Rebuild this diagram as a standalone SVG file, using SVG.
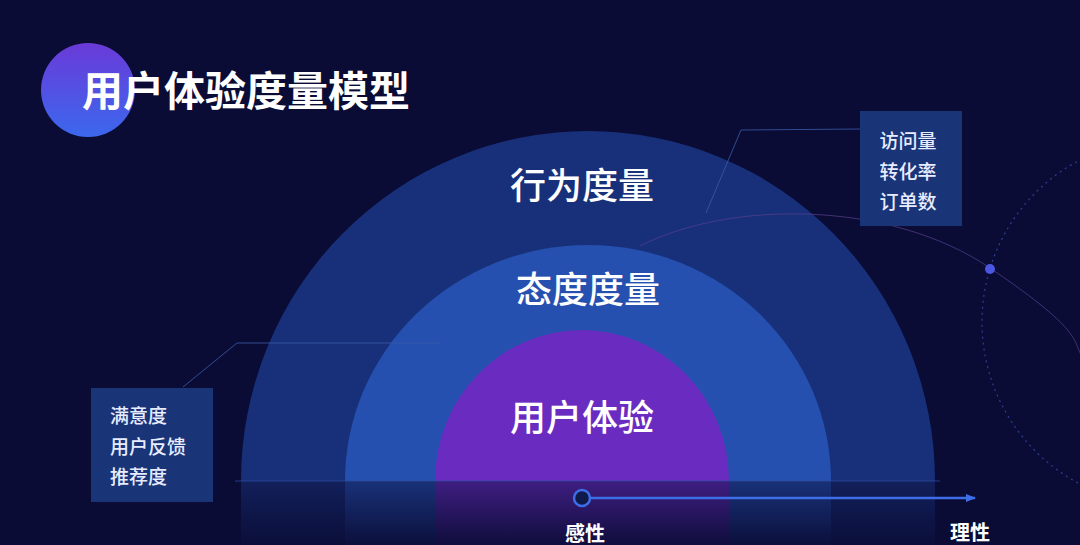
<svg xmlns="http://www.w3.org/2000/svg" width="1080" height="545" viewBox="0 0 1080 545">
<defs>
<linearGradient id="gTitle" x1="0" y1="0" x2="0" y2="1">
<stop offset="0" stop-color="#6a3ad8"/>
<stop offset="1" stop-color="#3b68ee"/>
</linearGradient>
<linearGradient id="gFloor" x1="0" y1="0" x2="0" y2="1">
<stop offset="0" stop-color="#0a0c35" stop-opacity="0.45"/>
<stop offset="1" stop-color="#0a0c35" stop-opacity="0.95"/>
</linearGradient>
<marker id="arr" markerWidth="10" markerHeight="10" refX="9" refY="5" orient="auto" markerUnits="userSpaceOnUse">
<path d="M0,1 L10,5 L0,9 Z" fill="#3d6ee8"/>
</marker>
<style>
.cjk{font-family:"Noto Sans CJK SC","Noto Sans",sans-serif;fill:#ffffff}
.big{font-size:36px;font-weight:500}
.small{font-size:19px;font-weight:500;fill:#e8ecff}
.box{fill:#1a3478}
.lead{fill:none;stroke:#3a5ba8;stroke-width:1;opacity:0.8}
</style>
</defs>
<rect x="0" y="0" width="1080" height="545" fill="#0a0c35"/>

<g id="title">
<circle cx="88" cy="90" r="47" fill="url(#gTitle)"/>
<text class="cjk" x="82" y="106" font-size="41" font-weight="700">用户体验度量模型</text>
</g>

<g id="arch-outer">
<path d="M 241 481 A 347 350 0 0 1 935 481 L 935 545 L 241 545 Z" fill="#18307a"/>
<text class="cjk big" x="582" y="199" text-anchor="middle">行为度量</text>
</g>
<g id="arch-middle">
<path d="M 345 481 A 243 236 0 0 1 831 481 L 831 545 L 345 545 Z" fill="#2650b0"/>
<text class="cjk big" x="588" y="303" text-anchor="middle">态度度量</text>
</g>
<g id="arch-inner">
<path d="M 435 481 A 147 151 0 0 1 729 481 L 729 545 L 435 545 Z" fill="#6a2cc0"/>
<text class="cjk big" x="582" y="431" text-anchor="middle">用户体验</text>
</g>

<rect x="0" y="481" width="1080" height="64" fill="url(#gFloor)"/>
<line x1="235" y1="481" x2="940" y2="481" stroke="#2a4a9a" stroke-width="1.2" opacity="0.8"/>

<g id="decor">
<circle cx="1165" cy="322" r="183" fill="none" stroke="#3a4aa8" stroke-width="1.2" stroke-dasharray="2 4" opacity="0.8"/>
<path d="M 640 246 C 730 200, 890 200, 990 268 S 1070 340, 1085 362" fill="none" stroke="#5a3f8e" stroke-width="1" opacity="0.7"/>
<circle cx="990" cy="269" r="5" fill="#4b57e0"/>
</g>

<g id="connectors">
<polyline class="lead" points="860,129 741,130 706,213"/>
<polyline class="lead" points="183,387 237,343 440,343"/>
<line x1="590" y1="498" x2="975" y2="498" stroke="#3d6ee8" stroke-width="2.5" marker-end="url(#arr)"/>
</g>

<g id="box-behavior">
<rect class="box" x="860" y="111" width="102" height="115"/>
<text class="cjk small" x="908" y="148" text-anchor="middle">访问量</text>
<text class="cjk small" x="908" y="179" text-anchor="middle">转化率</text>
<text class="cjk small" x="908" y="209" text-anchor="middle">订单数</text>
</g>

<g id="box-attitude">
<rect class="box" x="91" y="388" width="122" height="114"/>
<text class="cjk small" x="110" y="423">满意度</text>
<text class="cjk small" x="110" y="454">用户反馈</text>
<text class="cjk small" x="110" y="484">推荐度</text>
</g>

<g id="axis">
<circle cx="582" cy="498" r="8" fill="#0f1a4a" stroke="#3d6ee8" stroke-width="2.5"/>
<text class="cjk" x="585" y="541" font-size="20" font-weight="700" text-anchor="middle">感性</text>
<text class="cjk" x="970" y="540" font-size="20" font-weight="700" text-anchor="middle">理性</text>
</g>
</svg>
